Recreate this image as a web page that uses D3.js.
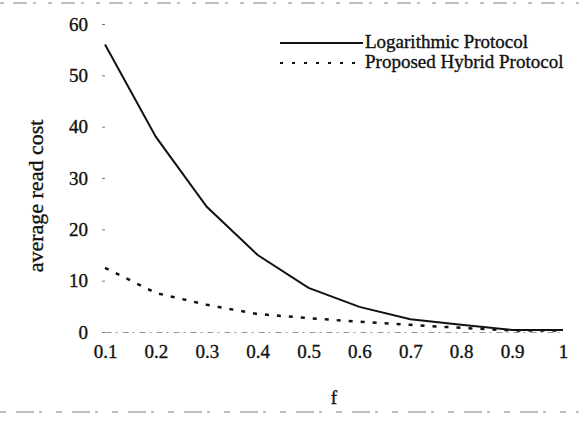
<!DOCTYPE html>
<html>
<head>
<meta charset="utf-8">
<script src="https://cdn.jsdelivr.net/npm/d3@7"></script>
<style>
  body { margin: 0; background: #fff; }
  text { font-family: "Liberation Serif", "Times New Roman", serif; fill: #111; stroke: #111; stroke-width: 0.35px; }
</style>
</head>
<body>
<div id="chart"></div>
<script>
const fValues = [0.1, 0.2, 0.3, 0.4, 0.5, 0.6, 0.7, 0.8, 0.9, 1];
const logarithmic = [56, 38, 24.4, 15, 8.6, 4.9, 2.5, 1.4, 0.4, 0.4];
const hybrid = [12.5, 7.6, 5.3, 3.5, 2.7, 2.0, 1.4, 0.8, 0.3, 0.3];
const yTicks = [0, 10, 20, 30, 40, 50, 60];
const seriesNames = ["Logarithmic Protocol", "Proposed Hybrid Protocol"];

const W = 579, H = 425;
const margin = { top: 24, right: 16, bottom: 93, left: 105 };
const width = W - margin.left - margin.right;
const height = H - margin.top - margin.bottom;

const svg = d3.select("#chart")
    .append("svg")
    .attr("width", W)
    .attr("height", H);

// faint scan edges
svg.append("line")
    .attr("x1", 0).attr("x2", W).attr("y1", 3).attr("y2", 3)
    .style("stroke", "#aaa").style("stroke-width", 1.5)
    .style("stroke-dasharray", "4,9,14,6,3,12");
svg.append("line")
    .attr("x1", 0).attr("x2", W).attr("y1", 412).attr("y2", 412)
    .style("stroke", "#aaa").style("stroke-width", 1.5)
    .style("stroke-dasharray", "6,10,18,5,3,14");

const g = svg.append("g")
    .attr("transform", `translate(${margin.left}, ${margin.top})`);

const xScale = d3.scaleLinear().domain([0.1, 1]).range([0, width]);
const yScale = d3.scaleLinear().domain([0, 60]).range([height, 0]);

// axes
g.append("g")
    .attr("class", "x-axis")
    .attr("transform", `translate(0, ${height})`)
    .call(d3.axisBottom(xScale).tickValues(fValues).tickSize(0).tickPadding(13)
        .tickFormat(d => d === 1 ? "1" : d3.format(".1f")(d)))
    .call(a => a.select(".domain")
        .style("stroke", "#999").style("stroke-dasharray", "6,4,2,5"))
    .selectAll("text")
    .style("font-size", "19px");

g.append("g")
    .attr("class", "y-axis")
    .call(d3.axisLeft(yScale).tickValues(yTicks).tickSize(3).tickPadding(14))
    .call(a => a.select(".domain").remove())
    .call(a => a.selectAll("line").style("stroke", "#777"))
    .selectAll("text")
    .style("font-size", "19px");

// axis titles
g.append("text")
    .attr("transform", `translate(-62, ${height / 2 + 18}) rotate(-90)`)
    .attr("text-anchor", "middle")
    .style("font-size", "22px")
    .text("average read cost");

g.append("text")
    .attr("x", xScale(0.55))
    .attr("y", height + 72)
    .attr("text-anchor", "middle")
    .style("font-size", "19px")
    .text("f");

// lines
const line = d3.line()
    .x((d, i) => xScale(fValues[i]))
    .y(d => yScale(d));

g.append("path")
    .datum(logarithmic)
    .attr("d", line)
    .style("fill", "none")
    .style("stroke", "#111")
    .style("stroke-width", 2);

g.append("path")
    .datum(hybrid)
    .attr("d", line)
    .style("fill", "none")
    .style("stroke", "#111")
    .style("stroke-width", 2.5)
    .style("stroke-dasharray", "4,8");

// legend
const legend = svg.append("g").attr("transform", "translate(280, 43)");
seriesNames.forEach((name, i) => {
    const row = legend.append("g").attr("transform", `translate(0, ${i * 20})`);
    row.append("line")
        .attr("x1", 0).attr("x2", 83)
        .style("stroke", "#111")
        .style("stroke-width", 2)
        .style("stroke-dasharray", i === 0 ? null : "3,9");
    row.append("text")
        .attr("x", 85)
        .attr("y", 5)
        .style("font-size", "19px")
        .text(name);
});
</script>
</body>
</html>
